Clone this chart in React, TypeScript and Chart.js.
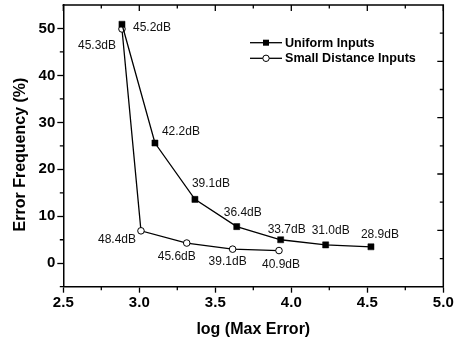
import React, { useEffect, useRef } from 'react';
import { Chart, registerables } from 'chart.js';

Chart.register(...registerables);

// ---- data ----
const uniformLabel = 'Uniform Inputs';
const uniformX = [2.886, 3.103, 3.366, 3.641, 3.930, 4.226, 4.524];
const uniformY = [50.9, 25.6, 13.6, 7.8, 5.0, 3.9, 3.5];
const uniformDb = ['45.2dB', '42.2dB', '39.1dB', '36.4dB', '33.7dB', '31.0dB', '28.9dB'];

const smallLabel = 'Small Distance Inputs';
const smallX = [2.886, 3.011, 3.312, 3.614, 3.919];
const smallY = [49.9, 6.9, 4.3, 3.0, 2.7];
const smallDb = ['45.3dB', '48.4dB', '45.6dB', '39.1dB', '40.9dB'];

const xMajorTicks = [2.5, 3.0, 3.5, 4.0, 4.5, 5.0];
const xMinorTicks = [2.75, 3.25, 3.75, 4.25, 4.75];
const yMajorTicks = [0, 10, 20, 30, 40, 50];
const yMinorTicks = [-5, 5, 15, 25, 35, 45];
const rightMajorTicks = [2, 4, 6, 8];
const rightMinorTicks = [1, 3, 5, 7, 9];

const xTitle = 'log (Max Error)';
const yTitle = 'Error Frequency (%)';

// ---- styles ----
const FONT = '"Liberation Sans", Arial, Helvetica, sans-serif';
const uniformOffsets: [number, number][] = [[30, 3], [26, -11], [16, -16], [6, -14], [6, -10], [5, -14], [9, -12]];
const smallOffsets: [number, number][] = [[-25, 17], [-24, 9], [-10, 14], [-5, 12.5], [2, 14]];

const labelPlugin = {
  id: 'dbLabels',
  afterDatasetsDraw(chart: any) {
    const { ctx } = chart;
    ctx.save();
    ctx.font = `12px ${FONT}`;
    ctx.fillStyle = '#111';
    ctx.textAlign = 'center';
    ctx.textBaseline = 'middle';
    const sets: [string[], [number, number][]][] = [[uniformDb, uniformOffsets], [smallDb, smallOffsets]];
    sets.forEach(([texts, offs], di) => {
      const meta = chart.getDatasetMeta(di);
      meta.data.forEach((pt: any, i: number) => {
        ctx.fillText(texts[i], pt.x + offs[i][0], pt.y + offs[i][1]);
      });
    });
    ctx.restore();
  },
};

const framePlugin = {
  id: 'frame',
  afterDraw(chart: any) {
    const { ctx, chartArea: a, scales } = chart;
    const xs = scales.x, ys = scales.y, y2 = scales.y2;
    ctx.save();
    ctx.strokeStyle = '#000';
    ctx.lineWidth = 1.5;
    ctx.beginPath();
    ctx.moveTo(a.left - 0.75, a.top);
    ctx.lineTo(a.right, a.top);
    ctx.lineTo(a.right, a.bottom + 0.75);
    ctx.stroke();
    ctx.lineWidth = 1.3;
    ctx.beginPath();
    xMinorTicks.forEach(v => {
      const px = xs.getPixelForValue(v);
      ctx.moveTo(px, a.bottom); ctx.lineTo(px, a.bottom + 3.5);
    });
    yMinorTicks.forEach(v => {
      const py = ys.getPixelForValue(v);
      ctx.moveTo(a.left, py); ctx.lineTo(a.left - 3.5, py);
    });
    xMajorTicks.forEach(v => {
      const px = xs.getPixelForValue(v);
      ctx.moveTo(px, a.top); ctx.lineTo(px, a.top + 6);
    });
    xMinorTicks.forEach(v => {
      const px = xs.getPixelForValue(v);
      ctx.moveTo(px, a.top); ctx.lineTo(px, a.top + 3.5);
    });
    rightMajorTicks.forEach(v => {
      const py = y2.getPixelForValue(v);
      ctx.moveTo(a.right, py); ctx.lineTo(a.right - 6, py);
    });
    rightMinorTicks.forEach(v => {
      const py = y2.getPixelForValue(v);
      ctx.moveTo(a.right, py); ctx.lineTo(a.right - 3.5, py);
    });
    ctx.stroke();

    // y title
    ctx.font = `bold 16px ${FONT}`;
    ctx.fillStyle = '#000';
    ctx.textAlign = 'center';
    ctx.textBaseline = 'middle';
    ctx.translate(20.8, 154.5);
    ctx.rotate(-Math.PI / 2);
    ctx.fillText(yTitle, 0, 0);
    ctx.restore();

    // legend
    ctx.save();
    ctx.strokeStyle = '#000';
    ctx.lineWidth = 1.3;
    ctx.font = `bold 12.6px ${FONT}`;
    ctx.textAlign = 'left';
    ctx.textBaseline = 'middle';
    ctx.fillStyle = '#000';
    chart.data.datasets.forEach((ds: any, i: number) => {
      const ly = 42.7 + i * 15.6;
      ctx.beginPath();
      ctx.moveTo(250, ly); ctx.lineTo(282, ly);
      ctx.stroke();
      if (ds.pointStyle === 'rect') {
        ctx.fillStyle = '#000';
        ctx.fillRect(266 - 3, ly - 3, 6, 6);
      } else {
        ctx.beginPath();
        ctx.arc(266, ly, 3.2, 0, Math.PI * 2);
        ctx.fillStyle = '#fff';
        ctx.fill();
        ctx.lineWidth = 1;
        ctx.stroke();
        ctx.lineWidth = 1.3;
      }
      ctx.fillStyle = '#000';
      ctx.fillText(ds.label, 285, ly + 0.5);
    });
    ctx.restore();
  },
};

export default function App() {
  const ref = useRef<HTMLCanvasElement | null>(null);
  useEffect(() => {
    document.body.style.margin = '0';
    const canvas = ref.current!;
    const chart = new Chart(canvas, {
      type: 'line',
      data: {
        datasets: [
          {
            label: uniformLabel,
            data: uniformX.map((x, i) => ({ x, y: uniformY[i] })),
            borderColor: '#000',
            borderWidth: 1.3,
            pointStyle: 'rect',
            pointRadius: 4.3,
            pointBackgroundColor: '#000',
            pointBorderColor: '#000',
            pointBorderWidth: 0.5,
            tension: 0,
          },
          {
            label: smallLabel,
            data: smallX.map((x, i) => ({ x, y: smallY[i] })),
            borderColor: '#000',
            borderWidth: 1.3,
            pointStyle: 'circle',
            pointRadius: 3.3,
            pointBackgroundColor: '#fff',
            pointBorderColor: '#000',
            pointBorderWidth: 1,
            tension: 0,
          },
        ] as any,
      },
      options: {
        responsive: false,
        animation: false,
        devicePixelRatio: 1,
        layout: { padding: { top: 3.3, right: 15.7, left: 0, bottom: 0 } },
        plugins: { legend: { display: false }, tooltip: { enabled: false } },
        scales: {
          x: {
            type: 'linear',
            position: 'bottom',
            min: 2.5,
            max: 5.0,
            afterBuildTicks: (s: any) => { s.ticks = xMajorTicks.map(v => ({ value: v })); },
            afterFit: (s: any) => { s.height = 56.3; s.paddingLeft = 0; s.paddingRight = 0; },
            ticks: {
              callback: (v: any) => Number(v).toFixed(1),
              font: { family: FONT, size: 15, weight: 'bold' },
              color: '#000',
              padding: 1,
              maxRotation: 0,
              autoSkip: false,
            },
            grid: { drawOnChartArea: false, drawTicks: true, tickLength: 6, tickWidth: 1.3, tickColor: '#000' },
            border: { color: '#000', width: 1.5 },
            title: {
              display: true,
              text: xTitle,
              color: '#000',
              font: { family: FONT, size: 16, weight: 'bold' },
              padding: { top: 0, bottom: 4 },
            },
          },
          y: {
            type: 'linear',
            position: 'left',
            min: -5,
            max: 55,
            afterBuildTicks: (s: any) => { s.ticks = yMajorTicks.map(v => ({ value: v })); },
            afterFit: (s: any) => { s.width = 63.3; s.paddingTop = 0; s.paddingBottom = 0; },
            ticks: {
              font: { family: FONT, size: 15, weight: 'bold' },
              color: '#000',
              padding: 2,
              autoSkip: false,
            },
            grid: { drawOnChartArea: false, drawTicks: true, tickLength: 6, tickWidth: 1.3, tickColor: '#000' },
            border: { color: '#000', width: 1.5 },
          },
          y2: {
            type: 'linear',
            position: 'right',
            display: false,
            min: 0,
            max: 10,
          },
        },
      } as any,
      plugins: [labelPlugin, framePlugin],
    });
    return () => chart.destroy();
  }, []);
  return (
    <div style={{ width: 459, height: 343 }}>
      <canvas ref={ref} width={459} height={343} style={{ display: 'block' }} />
    </div>
  );
}
